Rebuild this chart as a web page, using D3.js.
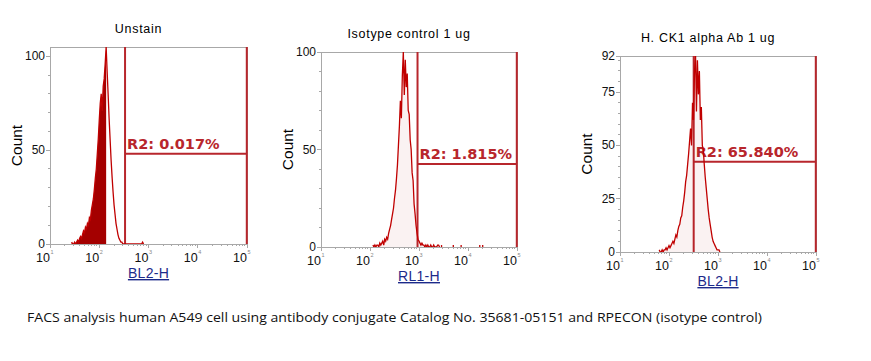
<!DOCTYPE html>
<html><head><meta charset="utf-8">
<script src="https://cdn.jsdelivr.net/npm/d3@7"></script>
<style>body{margin:0;background:#fff}svg{display:block}</style>
</head><body>
<svg id="c" width="871" height="361"></svg>
<script>
// ---------- data ----------
const titles = ["Unstain", "Isotype control 1 ug", "H. CK1 alpha Ab 1 ug"];
const xLabels = ["BL2-H", "RL1-H", "BL2-H"];
const yLabel = "Count";
const xTickExps = [1, 2, 3, 4, 5];
const yMaxes = [105, 100, 92];
const yTicks = [[0, 50, 100], [0, 50, 100], [0, 25, 50, 75, 92]];
const yMinorStep = [10, 10, 5];
const gateLow = [334, 933, 319];
const gateHigh = [99000, 99000, 99000];
const gateCount = [48.1, 42.6, 42.4];
const gateText = ["R2: 0.017%", "R2: 1.815%", "R2: 65.840%"];
const binStep = 0.02; // log10 units
const binStart = [1.44, 2.06, 1.80];
const p1Counts = [1,0,0,1,0,1,2,1,3,4,3,5,7,6,9,8,11,10,14,13,18,21,24,29,35,40,48,56,66,75,80,71,84,88,96,105,92,80,67,56,45,36,28,21,16,11,8,5,3,2,1,1,0,
  0,0,0,0,0,0,0,0,0,0,0,0,0,0,0,0,0,0,0,1,0];
const p1FillEnd = 2.15; // log10 channel up to which the unstained histogram is solid
const p2Counts = [1,0,1,0,1,1,0,2,1,2,3,1,4,3,5,4,7,9,11,14,17,20,25,29,35,42,52,62,75,66,88,100,78,96,82,89,70,68,55,50,38,34,22,17,11,7,4,3,2,1,2,1,1,0,1,0,1,0,0,1,0,0,1,0,0,0,1,1,0];
const p2SparseLog = [3.46, 3.70, 3.86, 4.24, 4.30];
const p2SparseCount = [1, 1, 1, 1, 1];
const p3Counts = [1,0,0,1,0,1,1,2,1,2,3,2,3,4,5,4,6,8,7,10,12,13,16,17,21,24,28,33,36,41,46,52,58,50,70,62,84,95,66,90,74,85,62,68,50,48,41,35,30,25,20,16,13,10,7,5,4,3,2,1,1,1,0];
const counts = [p1Counts, p2Counts, p3Counts];
const caption = "FACS analysis human A549 cell using antibody conjugate Catalog No. 35681-05151 and RPECON (isotype control)";

// ---------- layout ----------
const boxes = [
  {l: 50, r: 247, t: 47, b: 244},
  {l: 321, r: 517, t: 52, b: 247},
  {l: 620, r: 816, t: 56, b: 252}
];
const svg = d3.select("#c");
const gridCol = "#a8a8a8", gateCol = "#b8262c", histLine = "#c00000", histFill = "#a40000";
const sans = "Liberation Sans, Arial, sans-serif";

boxes.forEach((bx, i) => {
  const x = d3.scaleLog().domain([10, 1e5]).range([bx.l, bx.r]);
  const y = d3.scaleLinear().domain([0, yMaxes[i]]).range([bx.b, bx.t]);
  const g = svg.append("g");

  // frame
  g.append("rect").attr("x", bx.l).attr("y", bx.t).attr("width", bx.r - bx.l).attr("height", bx.b - bx.t)
    .attr("fill", "none").attr("stroke", gridCol).attr("stroke-width", 1).attr("shape-rendering", "crispEdges");

  // y axis ticks
  const minor = d3.range(0, yMaxes[i] + 0.001, yMinorStep[i]).filter(v => v <= yMaxes[i]);
  g.selectAll(".ym").data(minor).join("line")
    .attr("x1", bx.l - 2).attr("x2", bx.l).attr("y1", d => y(d)).attr("y2", d => y(d))
    .attr("stroke", gridCol).attr("shape-rendering", "crispEdges");
  g.selectAll(".yM").data(yTicks[i]).join("line")
    .attr("x1", bx.l - 4).attr("x2", bx.l).attr("y1", d => y(d)).attr("y2", d => y(d))
    .attr("stroke", gridCol).attr("shape-rendering", "crispEdges");
  g.selectAll(".yl").data(yTicks[i]).join("text")
    .attr("x", bx.l - 5).attr("y", d => y(d) + 4).attr("text-anchor", "end")
    .attr("font-family", sans).attr("font-size", 12).attr("fill", "#111")
    .text(d => d);

  // x axis ticks
  const xMinor = [];
  for (let e = 1; e < 5; e++) for (let m = 2; m <= 9; m++) xMinor.push(m * Math.pow(10, e));
  g.selectAll(".xm").data(xMinor).join("line")
    .attr("x1", d => x(d)).attr("x2", d => x(d)).attr("y1", bx.b).attr("y2", bx.b + 2)
    .attr("stroke", gridCol).attr("shape-rendering", "crispEdges");
  g.selectAll(".xM").data(xTickExps).join("line")
    .attr("x1", d => x(Math.pow(10, d))).attr("x2", d => x(Math.pow(10, d))).attr("y1", bx.b).attr("y2", bx.b + 4)
    .attr("stroke", gridCol).attr("shape-rendering", "crispEdges");
  const xl = g.selectAll(".xl").data(xTickExps).join("g");
  xl.append("text").attr("x", d => x(Math.pow(10, d))).attr("y", bx.b + 18).attr("text-anchor", "end")
    .attr("font-family", sans).attr("font-size", 12.5).attr("fill", "#111").text("10");
  xl.append("text").attr("x", d => x(Math.pow(10, d)) + 0.5).attr("y", bx.b + 10)
    .attr("font-family", sans).attr("font-size", 5.5).attr("fill", "#888").text(d => d);

  // titles & labels
  g.append("text").attr("x", (bx.l + bx.r) / 2 - 10).attr("y", bx.t - 14).attr("text-anchor", "middle")
    .attr("font-family", sans).attr("font-size", 12.5).attr("letter-spacing", 0.7)
    .attr("fill", "#000").text(titles[i]);
  g.append("text").attr("x", (bx.l + bx.r) / 2).attr("y", bx.b + 34).attr("text-anchor", "middle")
    .attr("font-family", sans).attr("font-size", 14).attr("letter-spacing", 0.3)
    .attr("fill", "#1c2a8a").attr("text-decoration", "underline").text(xLabels[i]);
  g.append("text").attr("transform", `translate(${bx.l - 28},${(bx.t + bx.b) / 2}) rotate(-90)`)
    .attr("text-anchor", "middle").attr("font-family", sans).attr("font-size", 15.5)
    .attr("fill", "#000").text(yLabel);

  // gate label (under histogram)
  g.append("text").attr("x", x(gateLow[i]) + 2).attr("y", y(gateCount[i]) - 5)
    .attr("font-family", "DejaVu Sans, Verdana, sans-serif").attr("font-size", 14.5).attr("font-weight", "bold")
    .attr("fill", gateCol).text(gateText[i]);

  // gate lines
  [gateLow[i], gateHigh[i]].forEach(v => {
    g.append("line").attr("x1", x(v)).attr("x2", x(v)).attr("y1", bx.t).attr("y2", bx.b)
      .attr("stroke", gateCol).attr("stroke-width", 2);
  });
  g.append("line").attr("x1", x(gateLow[i])).attr("x2", x(gateHigh[i])).attr("y1", y(gateCount[i])).attr("y2", y(gateCount[i]))
    .attr("stroke", gateCol).attr("stroke-width", 2);

  // histogram
  const clipId = "clip" + i;
  svg.append("clipPath").attr("id", clipId).append("rect")
    .attr("x", bx.l).attr("y", bx.t).attr("width", bx.r - bx.l).attr("height", bx.b - bx.t);
  const pts = counts[i].map((c, k) => ({lv: binStart[i] + k * binStep, c}));
  const hg = g.append("g").attr("clip-path", `url(#${clipId})`);
  if (i === 0) {
    const fillPts = pts.filter(p => p.lv <= p1FillEnd);
    hg.append("path").datum(fillPts)
      .attr("d", d3.area().x(p => x(Math.pow(10, p.lv))).y0(bx.b).y1(p => y(p.c)))
      .attr("fill", histFill);
  } else {
    hg.append("path").datum(pts)
      .attr("d", d3.area().x(p => x(Math.pow(10, p.lv))).y0(bx.b).y1(p => y(p.c)))
      .attr("fill", histFill).attr("fill-opacity", 0.05);
  }
  hg.append("path").datum(pts)
    .attr("d", d3.line().x(p => x(Math.pow(10, p.lv))).y(p => y(p.c)))
    .attr("fill", "none").attr("stroke", histLine).attr("stroke-width", 1.3);
  if (i === 1) {
    hg.selectAll(".sp").data(p2SparseLog).join("line")
      .attr("x1", d => x(Math.pow(10, d))).attr("x2", d => x(Math.pow(10, d)))
      .attr("y1", bx.b).attr("y2", (d, k) => y(p2SparseCount[k]))
      .attr("stroke", histLine).attr("stroke-width", 1.3);
  }
});

svg.append("text").attr("x", 27).attr("y", 322)
  .attr("font-family", "Open Sans, sans-serif").attr("font-size", 13).attr("fill", "#111")
  .attr("textLength", 735).attr("lengthAdjust", "spacingAndGlyphs").text(caption);
</script>
</body></html>
